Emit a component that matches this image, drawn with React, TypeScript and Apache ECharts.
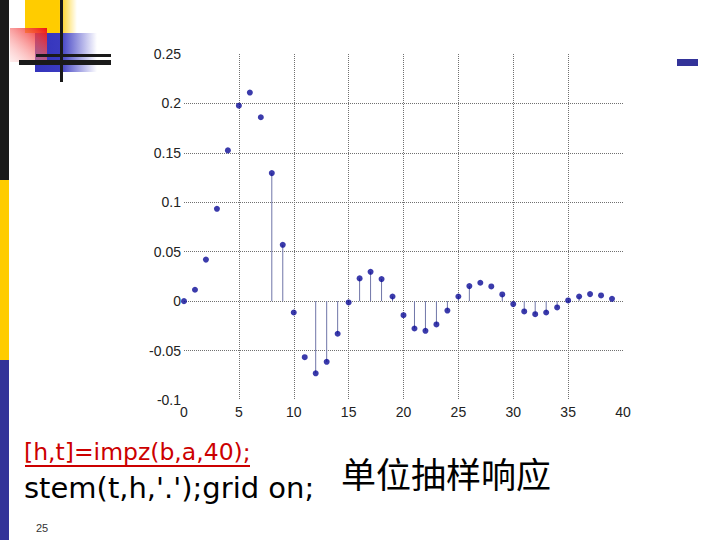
import React, { useEffect, useRef } from "react";
import * as echarts from "echarts";

const sampleIndex = Array.from({ length: 40 }, (_, i) => i);
const impulseResponse = [
  0, 0.0115, 0.042, 0.0934, 0.1525, 0.1977, 0.211, 0.186, 0.1295, 0.057,
  -0.0115, -0.0567, -0.073, -0.0614, -0.033, -0.0013, 0.023, 0.0297, 0.0223, 0.0047,
  -0.0142, -0.0277, -0.03, -0.0236, -0.0095, 0.0047, 0.0152, 0.0186, 0.0149, 0.0068,
  -0.003, -0.0104, -0.0132, -0.0115, -0.0064, 0.0007, 0.0047, 0.0071, 0.0058, 0.0023,
];
// stems that are visible in the reference picture
const stemIndices = [8, 9, 12, 13, 14, 16, 17, 18, 19, 21, 22, 23, 24, 25, 26, 29, 31, 32, 33, 34, 36];
const xTicks = { min: 0, max: 40, interval: 5 };
const yTicks = { min: -0.1, max: 0.25, interval: 0.05 };
const codeLine1 = "[h,t]=impz(b,a,40);";
const codeLine2 = "stem(t,h,'.');grid on;";
const captionText = "单位抽样响应";
const pageNumber = "25";

export default function App() {
  const ref = useRef<HTMLDivElement>(null);
  useEffect(() => {
    if (!ref.current) return;
    const chart = echarts.init(ref.current, null, { renderer: "svg" });
    const points = sampleIndex.map((n) => [n, impulseResponse[n]]);
    const stems = stemIndices.map((n) => [n, impulseResponse[n]]);
    const sans = "'Liberation Sans', Arial, sans-serif";
    chart.setOption({
      animation: false,
      backgroundColor: "#ffffff",
      grid: { left: 184, right: 97, top: 54, bottom: 140 },
      xAxis: {
        type: "value",
        min: xTicks.min,
        max: xTicks.max,
        interval: xTicks.interval,
        axisLine: { show: false },
        axisTick: { show: false },
        axisLabel: { color: "#222", fontSize: 14, fontFamily: sans, margin: 5 },
        splitLine: {
          show: true,
          showMinLine: false,
          showMaxLine: false,
          lineStyle: { type: "dotted", color: "#707070", width: 1 },
        },
      },
      yAxis: {
        type: "value",
        min: yTicks.min,
        max: yTicks.max,
        interval: yTicks.interval,
        axisLine: { show: false },
        axisTick: { show: false },
        axisLabel: { color: "#222", fontSize: 14, fontFamily: sans, margin: 3 },
        splitLine: {
          show: true,
          showMinLine: false,
          showMaxLine: false,
          lineStyle: { type: "dotted", color: "#707070", width: 1 },
        },
      },
      series: [
        {
          type: "custom",
          data: stems,
          renderItem: (params: any, api: any) => {
            const x = api.value(0);
            const y = api.value(1);
            const p0 = api.coord([x, 0]);
            const p1 = api.coord([x, y]);
            return {
              type: "line",
              shape: { x1: p0[0], y1: p0[1], x2: p1[0], y2: p1[1] },
              style: { stroke: "#7076a8", lineWidth: 1 },
            };
          },
        },
        {
          type: "scatter",
          data: points,
          symbol: "circle",
          symbolSize: 6,
          itemStyle: { color: "#0a0a96" },
        },
      ],
      graphic: [
        // left edge bars
        { type: "rect", left: 0, top: 0, shape: { width: 9, height: 180 }, style: { fill: "#1a1a1a" } },
        { type: "rect", left: 0, top: 180, shape: { width: 9, height: 180 }, style: { fill: "#ffcc00" } },
        { type: "rect", left: 0, top: 360, shape: { width: 9, height: 180 }, style: { fill: "#333399" } },
        // logo: yellow square
        {
          type: "rect",
          left: 25,
          top: 0,
          shape: { width: 52, height: 33 },
          style: {
            fill: new echarts.graphic.LinearGradient(0, 0, 1, 0, [
              { offset: 0, color: "#ffcc00" },
              { offset: 0.65, color: "#ffcc00" },
              { offset: 1, color: "rgba(255,204,0,0)" },
            ]),
          },
        },
        // blue rect fading
        {
          type: "rect",
          left: 35,
          top: 33,
          shape: { width: 62, height: 39 },
          style: {
            fill: new echarts.graphic.LinearGradient(0, 0, 1, 0, [
              { offset: 0, color: "#3333bb" },
              { offset: 0.4, color: "#3a3ac0" },
              { offset: 1, color: "rgba(60,60,200,0)" },
            ]),
          },
        },
        // red gradient square
        {
          type: "rect",
          left: 10,
          top: 28,
          shape: { width: 37, height: 34 },
          style: {
            fill: new echarts.graphic.LinearGradient(1, 0, 0, 1, [
              { offset: 0, color: "#ee1111" },
              { offset: 1, color: "rgba(255,200,200,0.3)" },
            ]),
          },
        },
        // black lines
        { type: "rect", left: 60, top: 0, shape: { width: 3, height: 82 }, style: { fill: "#1a1a1a" } },
        { type: "rect", left: 36, top: 54, shape: { width: 75, height: 3 }, style: { fill: "#1a1a1a" } },
        { type: "rect", left: 19, top: 60, shape: { width: 92, height: 5 }, style: { fill: "#1a1a1a" } },
        // right small blue mark
        { type: "rect", left: 677, top: 59, shape: { width: 21, height: 7 }, style: { fill: "#333399" } },
        // code text
        {
          type: "text",
          left: 24,
          top: 440,
          style: { text: codeLine1, fill: "#cc0000", font: "23.5px 'DejaVu Sans', Verdana, sans-serif" },
        },
        { type: "rect", left: 25, top: 465, shape: { width: 225, height: 2 }, style: { fill: "#cc0000" } },
        {
          type: "text",
          left: 24,
          top: 473,
          style: { text: codeLine2, fill: "#000000", font: "29px 'DejaVu Sans', Verdana, sans-serif" },
        },
        {
          type: "text",
          left: 36,
          top: 522,
          style: { text: pageNumber, fill: "#333", font: "11px 'Liberation Sans', Arial, sans-serif" },
        },
        {
          type: "text",
          left: 341,
          top: 455,
          style: { text: captionText, fill: "#000000", font: "35px 'Noto Sans CJK SC', sans-serif" },
        },
      ],
    });
    return () => chart.dispose();
  }, []);
  return (
    <div
      ref={ref}
      style={{ position: "fixed", left: 0, top: 0, width: 720, height: 540, background: "#fff" }}
    />
  );
}
